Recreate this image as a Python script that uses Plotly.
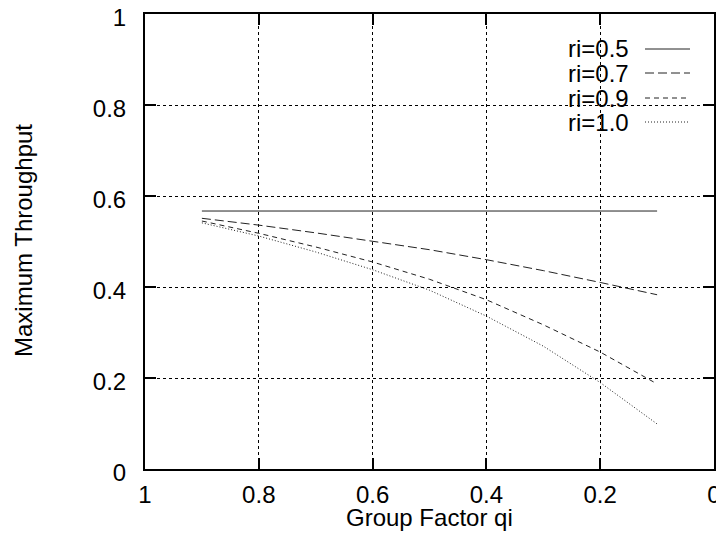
import plotly.graph_objects as go

qi = [0.9, 0.8, 0.7, 0.6, 0.5, 0.4, 0.3, 0.2, 0.1]
series_names = ["ri=0.5", "ri=0.7", "ri=0.9", "ri=1.0"]
thr_05 = [0.567, 0.567, 0.567, 0.567, 0.567, 0.567, 0.567, 0.567, 0.567]
thr_07 = [0.551, 0.536, 0.519, 0.501, 0.482, 0.460, 0.436, 0.410, 0.383]
thr_09 = [0.545, 0.518, 0.488, 0.455, 0.417, 0.372, 0.317, 0.257, 0.187]
thr_10 = [0.541, 0.512, 0.477, 0.438, 0.393, 0.336, 0.270, 0.190, 0.099]
x_ticks = [1, 0.8, 0.6, 0.4, 0.2, 0]
x_tick_labels = ["1", "0.8", "0.6", "0.4", "0.2", "0"]
y_ticks = [0, 0.2, 0.4, 0.6, 0.8, 1]
y_tick_labels = ["0", "0.2", "0.4", "0.6", "0.8", "1"]

series = [thr_05, thr_07, thr_09, thr_10]
dashes = ["solid", "9px,4px", "5px,4px", "1px,2px"]
colors = ["#222222", "#222222", "#222222", "#222222"]

FONT = "Liberation Sans, Arial, Helvetica, sans-serif"
FS = 24

# page body has an 8px margin; figure is sized/offset to compensate
OFF = 8
FW, FH = 724 - OFF, 540 - OFF
L, R, T, B = 145 - OFF, 714 - OFF, 14 - OFF, 469 - OFF
W, H = R - L, B - T

fig = go.Figure()
for name, ys, d, c in zip(series_names, series, dashes, colors):
    fig.add_trace(go.Scatter(x=qi, y=ys, mode="lines", name=name,
                             line=dict(color=c, width=1, dash=d),
                             showlegend=False))

# gnuplot-style legend: text on the left, line sample on the right
rows_px = [49, 73, 98, 122]
for name, d, c, ypx in zip(series_names, dashes, colors, rows_px):
    yp = (469 - ypx) / H
    fig.add_annotation(x=(631 - 145) / W, y=yp, xref="paper", yref="paper",
                       text=name, showarrow=False, xanchor="right",
                       yanchor="middle",
                       font=dict(family=FONT, size=FS, color="black"),
                       bgcolor="rgba(0,0,0,0)")
    fig.add_shape(type="line", xref="paper", yref="paper",
                  x0=(645 - 145) / W, x1=(690 - 145) / W, y0=yp, y1=yp,
                  line=dict(color=c, width=1, dash=d))

# axis titles
fig.add_annotation(x=(429 - 145) / W, y=(469 - 517) / H, xref="paper",
                   yref="paper", text="Group Factor qi", showarrow=False,
                   xanchor="center", yanchor="middle",
                   font=dict(family=FONT, size=FS, color="black"))
fig.add_annotation(x=(23 - 145) / W, y=(469 - 241) / H, xref="paper",
                   yref="paper", text="Maximum Throughput", showarrow=False,
                   textangle=-90, xanchor="center", yanchor="middle",
                   font=dict(family=FONT, size=FS, color="black"))

axis_common = dict(
    showline=True, linecolor="black", linewidth=2, mirror="ticks",
    ticks="inside", ticklen=11, tickwidth=2, tickcolor="black",
    showgrid=True, gridcolor="black", gridwidth=1, griddash="dot",
    zeroline=False, automargin=False, ticklabeloverflow="allow",
    tickfont=dict(family=FONT, size=FS, color="black"),
)

fig.update_xaxes(range=[1, 0], tickmode="array", tickvals=x_ticks,
                 ticktext=x_tick_labels, ticklabelstandoff=3,
                 **axis_common)
fig.update_yaxes(range=[0, 1], tickmode="array", tickvals=y_ticks,
                 ticktext=y_tick_labels, ticklabelstandoff=12,
                 ticklabelshift=4,
                 **axis_common)

fig.update_layout(
    width=FW, height=FH,
    margin=dict(l=L, r=FW - R, t=T, b=FH - B, pad=0, autoexpand=False),
    plot_bgcolor="white", paper_bgcolor="white",
    font=dict(family=FONT, size=FS, color="black"),
)

fig.write_html("out.html")
